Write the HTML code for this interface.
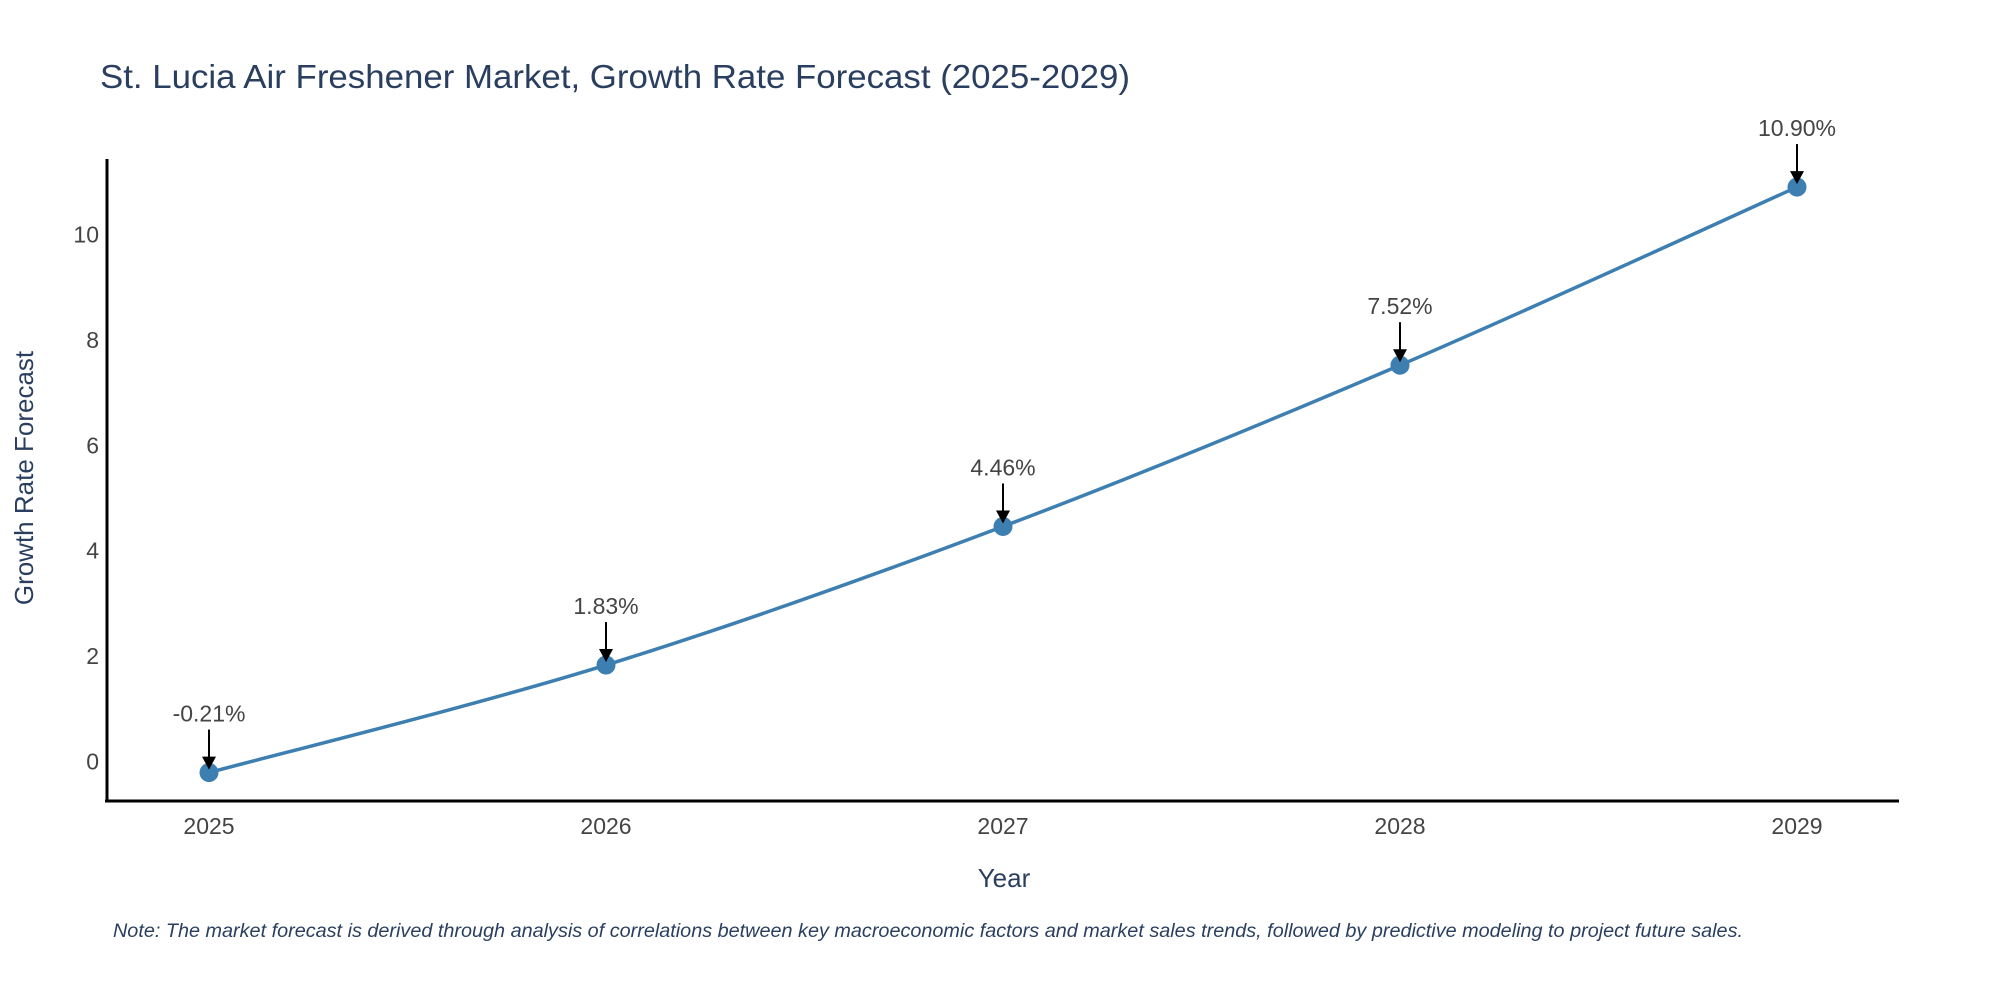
<!DOCTYPE html>
<html><head><meta charset="utf-8"><style>
html,body{margin:0;padding:0;background:#fff;}
svg{display:block;font-family:"Liberation Sans","DejaVu Sans",sans-serif;}
</style></head><body>
<svg id="chart" width="2000" height="1000" viewBox="0 0 2000 1000">
<text x="100" y="88" font-size="33" fill="#2a3f5f" textLength="1030" lengthAdjust="spacingAndGlyphs">St. Lucia Air Freshener Market, Growth Rate Forecast (2025-2029)</text>
<g id="axes"></g>
<g id="series"></g>
<text x="1004" y="887" font-size="26" fill="#2a3f5f" text-anchor="middle">Year</text>
<text transform="translate(33,478) rotate(-90)" font-size="26" fill="#2a3f5f" text-anchor="middle">Growth Rate Forecast</text>
<text x="113" y="937" font-size="19" font-style="italic" fill="#2a3f5f" textLength="1630" lengthAdjust="spacingAndGlyphs">Note: The market forecast is derived through analysis of correlations between key macroeconomic factors and market sales trends, followed by predictive modeling to project future sales.</text>
</svg>
<script>
const years = ["2025","2026","2027","2028","2029"];
const values = [-0.21, 1.83, 4.46, 7.52, 10.90];
const labels = ["-0.21%","1.83%","4.46%","7.52%","10.90%"];
const yTicks = [0,2,4,6,8,10];

const NS="http://www.w3.org/2000/svg";
const x0=209, x1=1797;
function xs(i){return x0+(x1-x0)*i/(years.length-1);}
function ys(v){return 761.5-(v*52.7);}
function mk(tag,attrs,parent){const e=document.createElementNS(NS,tag);for(const k in attrs)e.setAttribute(k,attrs[k]);parent.appendChild(e);return e;}
const axes=document.getElementById('axes'), ser=document.getElementById('series');

const ya=mk('line',{x1:107,y1:159,x2:107,y2:802,stroke:'#000','stroke-width':3},axes);


const xa=mk('line',{x1:105,y1:801,x2:1899,y2:801,stroke:'#000','stroke-width':3},axes);



yTicks.forEach(t=>{
  const e=mk('text',{x:99,y:ys(t)+8,'font-size':23,fill:'#444','text-anchor':'end'},axes);
  e.textContent=t;
  
  
});
years.forEach((y,i)=>{
  const e=mk('text',{x:xs(i),y:834,'font-size':23,fill:'#444','text-anchor':'middle'},axes);
  e.textContent=y;
  
  
});

const pts=values.map((v,i)=>[xs(i),ys(v)]);
let d=`M${pts[0][0]},${pts[0][1]}`;
const tension=0.5/3;
for(let i=0;i<pts.length-1;i++){
  const p0=pts[Math.max(i-1,0)],p1=pts[i],p2=pts[i+1],p3=pts[Math.min(i+2,pts.length-1)];
  const c1=[p1[0]+(p2[0]-p0[0])*tension,p1[1]+(p2[1]-p0[1])*tension];
  const c2=[p2[0]-(p3[0]-p1[0])*tension,p2[1]-(p3[1]-p1[1])*tension];
  d+=` C${c1[0]},${c1[1]} ${c2[0]},${c2[1]} ${p2[0]},${p2[1]}`;
}
const line=mk('path',{d:d,fill:'none',stroke:'#3e7fb1','stroke-width':3.5},ser);



values.forEach((v,i)=>{
  const cx=xs(i), cy=ys(v);
  const c=mk('circle',{cx:cx,cy:cy,r:9.5,fill:'#3e7fb1'},ser);
  
  
  const a=mk('line',{x1:cx,y1:cy-43,x2:cx,y2:cy-14,stroke:'#000','stroke-width':2},ser);
  
  
  const h=mk('polygon',{points:`${cx-7},${cy-16} ${cx+7},${cy-16} ${cx},${cy-3}`,fill:'#000'},ser);
  
  
  const t=mk('text',{x:cx,y:cy-51,'font-size':23,fill:'#444','text-anchor':'middle'},ser);
  t.textContent=labels[i];
  
  
});
</script>
</body></html>
